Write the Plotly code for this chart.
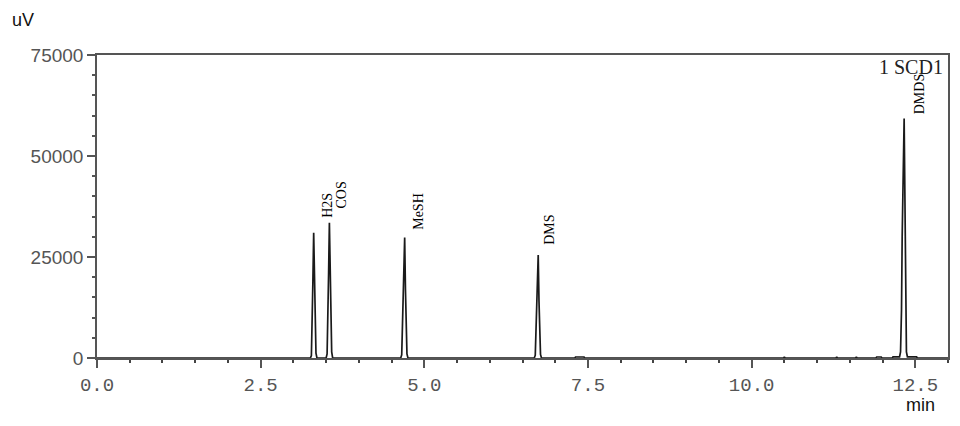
import plotly.graph_objects as go

# ---- data ----
time_min = [
    0.00, 3.26,
    3.275, 3.288, 3.298, 3.31, 3.322, 3.334, 3.345, 3.36,
    3.50, 3.515, 3.528, 3.538, 3.55, 3.562, 3.574, 3.585, 3.60,
    4.64, 4.655, 4.668, 4.678, 4.70, 4.712, 4.724, 4.735, 4.75,
    6.68, 6.695, 6.708, 6.718, 6.74, 6.752, 6.764, 6.775, 6.79,
    7.30, 7.31, 7.44, 7.45,
    10.49, 10.50, 10.51,
    11.29, 11.30, 11.31,
    11.59, 11.60, 11.61,
    11.90, 11.91, 11.98, 11.99,
    12.15, 12.16, 12.26, 12.275, 12.29, 12.30, 12.33, 12.342, 12.354, 12.365, 12.38, 12.40, 12.52, 12.53,
    13.00,
]
signal_uV = [
    0, 0,
    600, 8000, 19000, 31000, 19000, 8000, 1200, 0,
    0, 1000, 9000, 21000, 33500, 21000, 8000, 1500, 0,
    0, 800, 7500, 17000, 29800, 17000, 7000, 1000, 0,
    0, 700, 6500, 15000, 25500, 14000, 6000, 900, 0,
    0, 250, 250, 0,
    0, 300, 0,
    0, 300, 0,
    0, 300, 0,
    0, 250, 250, 0,
    0, 300, 300, 1500, 12000, 30000, 59300, 30000, 12000, 1500, 300, 300, 300, 0,
    0,
]
peak_names = ["H2S", "COS", "MeSH", "DMS", "DMDS"]
x_ticks = [0.0, 2.5, 5.0, 7.5, 10.0, 12.5]
y_ticks = [0, 25000, 50000, 75000]

# ---- label placement (layout only) ----
label_pos = [(3.52, 34200), (3.74, 36600), (4.90, 31300), (6.91, 27600), (12.57, 59800)]

fig = go.Figure()
fig.add_trace(go.Scatter(
    x=time_min, y=signal_uV, mode="lines",
    line=dict(color="#1a1a1a", width=1.7),
    hoverinfo="skip", showlegend=False,
))

for name, (lx, ly) in zip(peak_names, label_pos):
    fig.add_annotation(
        x=lx, y=ly, text=name, showarrow=False, textangle=-90,
        xanchor="center", yanchor="bottom",
        font=dict(family="Liberation Serif", size=14, color="#000000"),
    )

fig.add_annotation(xref="paper", yref="paper", x=0.996, y=0.962, text="1 SCD1",
                   showarrow=False, xanchor="right", yanchor="middle",
                   font=dict(family="Liberation Serif", size=20, color="#222222"))
fig.add_annotation(xref="paper", yref="paper", x=-0.102, y=1.115, text="uV",
                   showarrow=False, xanchor="left", yanchor="middle",
                   font=dict(family="Liberation Sans", size=18, color="#111111"))
fig.add_annotation(xref="paper", yref="paper", x=0.968, y=-0.155, text="min",
                   showarrow=False, xanchor="center", yanchor="middle",
                   font=dict(family="Liberation Sans", size=18, color="#111111"))

# page body has an 8px margin, so the figure is sized/offset to compensate
fig.update_layout(
    width=952, height=418,
    margin=dict(l=89, r=10, t=47, b=68),
    paper_bgcolor="white", plot_bgcolor="white",
    showlegend=False, hovermode=False,
)
fig.update_xaxes(
    range=[0, 13.0], tickvals=x_ticks, ticktext=[f"{v:.1f}" for v in x_ticks],
    showgrid=False, zeroline=False,
    showline=True, linecolor="#555555", linewidth=1.5, mirror=True,
    ticks="outside", ticklen=8, tickcolor="#555555", tickwidth=1.5,
    tickfont=dict(family="Liberation Mono", size=19, color="#555555"),
    minor=dict(dtick=0.5, tick0=0, ticks="outside", ticklen=3, tickcolor="#444444", tickwidth=2),
)
fig.update_yaxes(
    range=[0, 75000], tickvals=y_ticks, ticktext=[str(v) for v in y_ticks],
    showgrid=False, zeroline=False,
    showline=True, linecolor="#555555", linewidth=1.5, mirror=True,
    ticks="outside", ticklen=8, tickcolor="#555555", tickwidth=1.5,
    tickfont=dict(family="Liberation Sans", size=19, color="#555555"),
    minor=dict(dtick=5000, tick0=0, ticks="outside", ticklen=3, tickcolor="#555555", tickwidth=1.5),
)

fig.write_html("out.html", config={"displayModeBar": False})
